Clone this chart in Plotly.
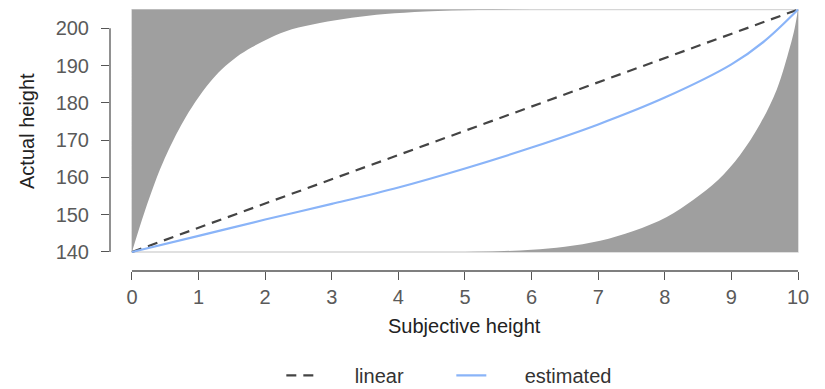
import plotly.graph_objects as go

# ---- data ----
x_ticks = [0, 1, 2, 3, 4, 5, 6, 7, 8, 9, 10]
y_ticks = [140, 150, 160, 170, 180, 190, 200]

linear_x = [0, 10]
linear_y = [140, 205]

est_x = [0, 1, 2, 3, 4, 5, 6, 7, 8, 9, 9.5, 10]
est_y = [140.0, 144.3, 148.7, 152.9, 157.3, 162.4, 168.0, 174.2, 181.4, 190.3, 196.6, 205.0]

upper_x = [0.00, 0.10, 0.20, 0.32, 0.42, 0.52, 0.65, 0.77, 0.95, 1.17, 1.35, 1.57,
           1.80, 2.07, 2.40, 2.82, 3.30, 3.80, 4.40, 5.20, 6.00]
upper_y = [140.0, 145.8, 151.3, 157.4, 162.1, 166.2, 171.0, 175.0, 180.2, 185.5, 189.0, 192.3,
           194.9, 197.4, 199.7, 201.4, 202.8, 203.8, 204.5, 204.9, 205.0]

lower_x = [5.00, 5.50, 6.00, 6.50, 7.03, 7.53, 8.03, 8.43, 8.80, 9.13, 9.43, 9.68, 9.88, 9.95, 10.00]
lower_y = [140.0, 140.2, 140.6, 141.4, 143.0, 145.6, 149.4, 154.0, 159.3, 166.0, 174.3, 183.5, 195.0, 200.0, 205.0]

x_min, x_max = 0, 10
y_min, y_max = 140, 205

GREY = "#9f9f9f"
FONT = "Liberation Sans, Arial, sans-serif"

fig = go.Figure()

# top-left grey region: between the top edge and the upper curve
fig.add_trace(go.Scatter(
    x=[upper_x[0], upper_x[-1]], y=[y_max, y_max], mode="lines",
    line=dict(width=0, color=GREY), showlegend=False, hoverinfo="skip"))
fig.add_trace(go.Scatter(
    x=upper_x, y=upper_y, mode="lines", line_shape="spline", fill="tonexty",
    fillcolor=GREY, line=dict(width=0, color=GREY), showlegend=False, hoverinfo="skip"))
# bottom-right grey region: between the bottom edge and the lower curve
fig.add_trace(go.Scatter(
    x=[lower_x[0], x_max], y=[y_min, y_min], mode="lines",
    line=dict(width=0, color=GREY), showlegend=False, hoverinfo="skip"))
fig.add_trace(go.Scatter(
    x=lower_x, y=lower_y, mode="lines", line_shape="spline", fill="tonexty",
    fillcolor=GREY, line=dict(width=0, color=GREY), showlegend=False, hoverinfo="skip"))

fig.add_trace(go.Scatter(
    x=linear_x, y=linear_y, mode="lines", name="\u00a0" * 6 + "linear",
    line=dict(color="#444444", width=2.2, dash="10px,7px")))
fig.add_trace(go.Scatter(
    x=est_x, y=est_y, mode="lines", name="\u00a0" * 6 + "estimated", line_shape="spline",
    line=dict(color="#8ab4f8", width=2.2)))

axis_col = "#555555"
fig.update_layout(
    width=825, height=389,
    margin=dict(l=110, r=25, t=9, b=118),
    paper_bgcolor="white", plot_bgcolor="white",
    font=dict(family=FONT, size=20, color="#333333"),
    xaxis=dict(range=[-0.33, 10.03], tickvals=x_ticks, ticks="outside", ticklen=8,
               tickwidth=1, tickcolor=axis_col, showgrid=False, zeroline=False,
               showline=False, tickfont=dict(size=20, color="#5a5a5a")),
    yaxis=dict(range=[134.9, 205.15], tickvals=y_ticks, ticks="outside", ticklen=8,
               tickwidth=1, tickcolor=axis_col, showgrid=False, zeroline=False,
               showline=False, tickfont=dict(size=20, color="#5a5a5a"),
               ticklabelstandoff=8),
    legend=dict(orientation="h", xref="container", yref="container", traceorder="normal",
                x=0.341, xanchor="left", y=0.035, yanchor="middle",
                font=dict(size=20, color="#333333"), bgcolor="rgba(0,0,0,0)",
                entrywidth=125, entrywidthmode="pixels"),
    shapes=[
        dict(type="rect", xref="x", yref="y", x0=x_min, x1=x_max, y0=y_min, y1=y_max,
             line=dict(color="#d6d6d6", width=1.5), layer="below"),
        dict(type="line", xref="paper", yref="y", x0=0, x1=0, y0=y_ticks[0], y1=y_ticks[-1],
             line=dict(color=axis_col, width=1.3)),
        dict(type="line", xref="x", yref="paper", x0=x_ticks[0], x1=x_ticks[-1], y0=0, y1=0,
             line=dict(color=axis_col, width=1.3)),
    ],
    annotations=[
        dict(text="Actual height", xref="paper", yref="y", x=-0.120, y=172.5,
             textangle=-90, showarrow=False, xanchor="center", yanchor="middle",
             font=dict(size=20, color="#222222")),
        dict(text="Subjective height", xref="x", yref="paper", x=5, y=-0.209,
             showarrow=False, xanchor="center", yanchor="middle",
             font=dict(size=20, color="#222222")),
    ],
)

fig.write_html("out.html")
